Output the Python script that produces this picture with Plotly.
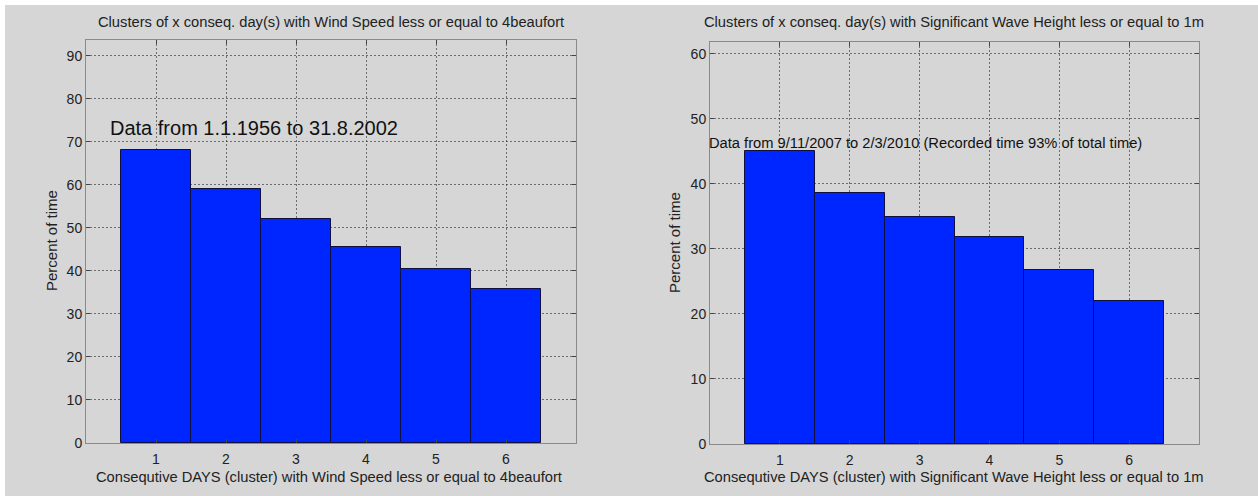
import plotly.graph_objects as go

# Cluster lengths (consecutive days) and share of time for each
days = [1, 2, 3, 4, 5, 6]
wind_pct = [68.2, 59.0, 52.0, 45.6, 40.4, 35.8]
wave_pct = [45.1, 38.6, 34.9, 31.8, 26.8, 22.0]
y_ticks_wind = [0, 10, 20, 30, 40, 50, 60, 70, 80, 90]
y_ticks_wave = [0, 10, 20, 30, 40, 50, 60]

W, H = 1258, 496
LAYOUT_W, LAYOUT_H = 1258, 488  # usable drawing extent used for placing elements
FONT = "Liberation Sans, Arial, sans-serif"
BAR_BLUE = "#0026ff"
FRAME = "#8a8a8a"
GRID = "rgba(40,40,40,0.6)"
BG = "#d6d6d6"
TXT = 14.7

fig = go.Figure()

fig.add_trace(go.Bar(x=days, y=wind_pct, width=1, xaxis="x", yaxis="y",
                     marker=dict(color=BAR_BLUE, line=dict(color="#101040", width=1)),
                     showlegend=False, hoverinfo="x+y"))
fig.add_trace(go.Bar(x=days, y=wave_pct, width=1, xaxis="x2", yaxis="y2",
                     marker=dict(color=BAR_BLUE, line=dict(color="#101040", width=1)),
                     showlegend=False, hoverinfo="x+y"))


def px_x(p):
    return p / LAYOUT_W


def px_y(p):
    return 1 - p / LAYOUT_H


axis_common = dict(
    showline=True, linecolor=FRAME, linewidth=1, mirror="ticks",
    ticks="inside", ticklen=4, tickcolor="#444",
    showgrid=True, gridcolor=GRID, griddash="2px,2px", gridwidth=1,
    zeroline=False, tickfont=dict(family=FONT, size=14, color="#222"),
)

fig.update_layout(
    width=W, height=H,
    margin=dict(l=0, r=0, t=0, b=0),
    paper_bgcolor="white",
    plot_bgcolor="white",
    bargap=0,
    font=dict(family=FONT, color="#222"),
    xaxis=dict(domain=[px_x(86), px_x(576)], range=[0, 7], tickvals=days,
               anchor="y", ticklabelstandoff=3, **axis_common),
    yaxis=dict(domain=[px_y(443), px_y(40)], range=[0, 93.7], tickvals=y_ticks_wind,
               anchor="x", **axis_common),
    xaxis2=dict(domain=[px_x(710), px_x(1199)], range=[0, 7], tickvals=days,
                anchor="y2", ticklabelstandoff=3, **axis_common),
    yaxis2=dict(domain=[px_y(444), px_y(42)], range=[0, 61.8], tickvals=y_ticks_wave,
                anchor="x2", **axis_common),
)

# grey window background, leaving a thin white strip at the top and left edges
fig.add_shape(type="rect", xref="paper", yref="paper",
              x0=px_x(5), x1=1.1, y0=-0.1, y1=px_y(5),
              fillcolor=BG, line=dict(width=0), layer="below")

texts = [
    # titles
    dict(x=331, y=22,
         text="Clusters of x conseq. day(s) with Wind Speed less or equal to 4beaufort"),
    dict(x=954, y=22,
         text="Clusters of x conseq. day(s) with Significant Wave Height less or equal to 1m"),
    # x-axis titles
    dict(x=329, y=477,
         text="Consequtive DAYS (cluster) with Wind Speed less or equal to 4beaufort"),
    dict(x=954, y=477,
         text="Consequtive DAYS (cluster) with Significant Wave Height less or equal to 1m"),
]
for t in texts:
    fig.add_annotation(x=px_x(t["x"]), y=px_y(t["y"]), xref="paper", yref="paper",
                       text=t["text"], showarrow=False, xanchor="center", yanchor="middle",
                       font=dict(family=FONT, size=TXT, color="#222"))

# y-axis titles
for xp, yp in [(51, 241), (674, 243)]:
    fig.add_annotation(x=px_x(xp), y=px_y(yp), xref="paper", yref="paper",
                       text="Percent of time", textangle=-90, showarrow=False,
                       xanchor="center", yanchor="middle",
                       font=dict(family=FONT, size=15, color="#222"))

# data period notes inside the plots
fig.add_annotation(x=px_x(108), y=px_y(128), xref="paper", yref="paper",
                   text="Data from 1.1.1956 to 31.8.2002",
                   showarrow=False, xanchor="left", yanchor="middle",
                   font=dict(family=FONT, size=20, color="#111"))
fig.add_annotation(x=px_x(707), y=px_y(143), xref="paper", yref="paper",
                   text="Data from 9/11/2007 to 2/3/2010 (Recorded time 93% of total time)",
                   showarrow=False, xanchor="left", yanchor="middle",
                   font=dict(family=FONT, size=TXT, color="#111"))

fig.write_html("out.html")
